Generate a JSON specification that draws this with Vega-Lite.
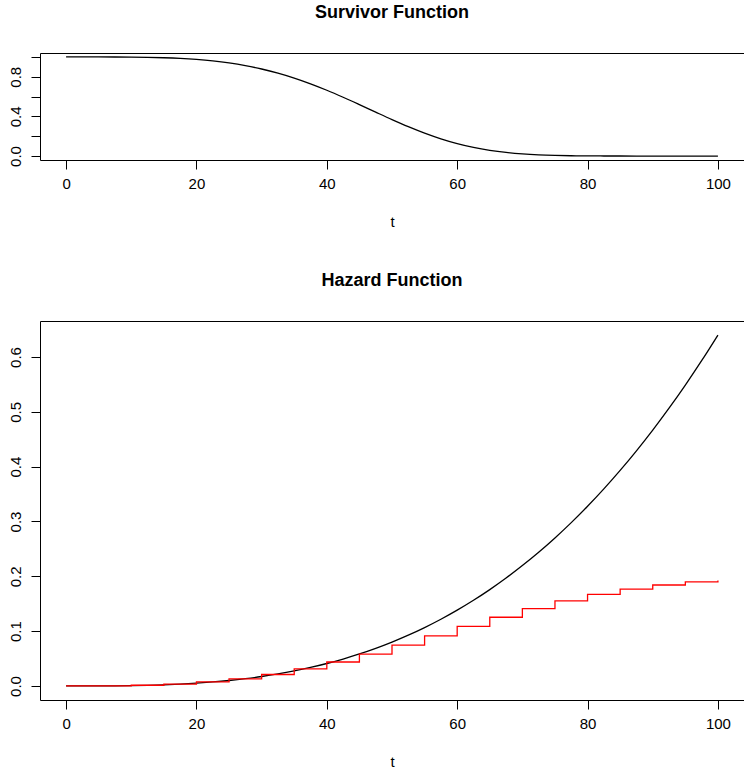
{
  "$schema": "https://vega.github.io/schema/vega-lite/v6.json",
  "padding": {"left": 7, "top": 3, "right": 0, "bottom": 0},
  "background": "white",
  "config": {
    "font": "Liberation Sans",
    "view": {"stroke": "black", "strokeWidth": 1},
    "axis": {"domain": false, "grid": false, "tickColor": "black", "tickSize": 9, "tickWidth": 1, "labelFont": "Liberation Sans", "labelFontSize": 15, "labelColor": "black", "titleFont": "Liberation Sans", "titleFontSize": 15, "titleFontWeight": "normal", "titleColor": "black"},
    "axisX": {"labelPadding": 7, "titlePadding": 23},
    "axisY": {"labelAngle": 270, "labelAlign": "center", "labelBaseline": "alphabetic", "labelPadding": 11},
    "title": {"font": "Liberation Sans", "fontSize": 18, "fontWeight": "bold", "color": "black", "anchor": "middle", "frame": "group", "baseline": "alphabetic", "offset": 31},
    "concat": {"spacing": 41}
  },
  "datasets": {
    "surv": [
      {"t": 0, "s": 1}, {"t": 2.5, "s": 1.0}, {"t": 5, "s": 0.9999}, {"t": 7.5, "s": 0.9995},
      {"t": 10, "s": 0.9984}, {"t": 12.5, "s": 0.9961}, {"t": 15, "s": 0.9919}, {"t": 17.5, "s": 0.9851},
      {"t": 20, "s": 0.9747}, {"t": 22.5, "s": 0.9598}, {"t": 25, "s": 0.9394}, {"t": 27.5, "s": 0.9126},
      {"t": 30, "s": 0.8785}, {"t": 32.5, "s": 0.8365}, {"t": 35, "s": 0.7866}, {"t": 37.5, "s": 0.7288},
      {"t": 40, "s": 0.6639}, {"t": 42.5, "s": 0.5933}, {"t": 45, "s": 0.5189}, {"t": 47.5, "s": 0.4429},
      {"t": 50, "s": 0.3679}, {"t": 52.5, "s": 0.2966}, {"t": 55, "s": 0.2313}, {"t": 57.5, "s": 0.1740},
      {"t": 60, "s": 0.1257}, {"t": 62.5, "s": 0.0870}, {"t": 65, "s": 0.0575}, {"t": 67.5, "s": 0.0361},
      {"t": 70, "s": 0.0215}, {"t": 72.5, "s": 0.0120}, {"t": 75, "s": 0.0063}, {"t": 77.5, "s": 0.0031},
      {"t": 80, "s": 0.0014}, {"t": 82.5, "s": 0.0006}, {"t": 85, "s": 0.0002}, {"t": 87.5, "s": 0.0001},
      {"t": 90, "s": 0}, {"t": 95, "s": 0}, {"t": 100, "s": 0}
    ],
    "haz": [
      {"t": 0, "h": 0}, {"t": 2.5, "h": 0.00001}, {"t": 5, "h": 0.00008}, {"t": 7.5, "h": 0.00027},
      {"t": 10, "h": 0.00064}, {"t": 12.5, "h": 0.00125}, {"t": 15, "h": 0.00216}, {"t": 17.5, "h": 0.00343},
      {"t": 20, "h": 0.00512}, {"t": 22.5, "h": 0.00729}, {"t": 25, "h": 0.01}, {"t": 27.5, "h": 0.01331},
      {"t": 30, "h": 0.01728}, {"t": 32.5, "h": 0.02197}, {"t": 35, "h": 0.02744}, {"t": 37.5, "h": 0.03375},
      {"t": 40, "h": 0.04096}, {"t": 42.5, "h": 0.04913}, {"t": 45, "h": 0.05832}, {"t": 47.5, "h": 0.06859},
      {"t": 50, "h": 0.08}, {"t": 52.5, "h": 0.09261}, {"t": 55, "h": 0.10648}, {"t": 57.5, "h": 0.12167},
      {"t": 60, "h": 0.13824}, {"t": 62.5, "h": 0.15625}, {"t": 65, "h": 0.17576}, {"t": 67.5, "h": 0.19683},
      {"t": 70, "h": 0.21952}, {"t": 72.5, "h": 0.24389}, {"t": 75, "h": 0.27}, {"t": 77.5, "h": 0.29791},
      {"t": 80, "h": 0.32768}, {"t": 82.5, "h": 0.35937}, {"t": 85, "h": 0.39304}, {"t": 87.5, "h": 0.42875},
      {"t": 90, "h": 0.46656}, {"t": 92.5, "h": 0.50653}, {"t": 95, "h": 0.54872}, {"t": 97.5, "h": 0.59319},
      {"t": 100, "h": 0.64}
    ],
    "step": [
      {"t": 0, "h": 0.00002}, {"t": 5, "h": 0.0003}, {"t": 10, "h": 0.0013}, {"t": 15, "h": 0.0035},
      {"t": 20, "h": 0.0073}, {"t": 25, "h": 0.0130}, {"t": 30, "h": 0.0209}, {"t": 35, "h": 0.0312},
      {"t": 40, "h": 0.0437}, {"t": 45, "h": 0.0582}, {"t": 50, "h": 0.0743}, {"t": 55, "h": 0.0913},
      {"t": 60, "h": 0.1086}, {"t": 65, "h": 0.1253}, {"t": 70, "h": 0.1410}, {"t": 75, "h": 0.1550},
      {"t": 80, "h": 0.1669}, {"t": 85, "h": 0.1766}, {"t": 90, "h": 0.1841}, {"t": 95, "h": 0.1897},
      {"t": 100, "h": 0.1925}
    ]
  },
  "vconcat": [
    {
      "title": "Survivor Function",
      "width": 704,
      "height": 107,
      "data": {"name": "surv"},
      "mark": {"type": "line", "color": "black", "strokeWidth": 1.3, "interpolate": "monotone"},
      "encoding": {
        "x": {"field": "t", "type": "quantitative", "scale": {"domain": [-4, 104], "nice": false, "zero": false},
              "axis": {"values": [0, 20, 40, 60, 80, 100], "title": "t"}},
        "y": {"field": "s", "type": "quantitative", "scale": {"domain": [-0.04, 1.04], "nice": false, "zero": false},
              "axis": {"values": [0, 0.2, 0.4, 0.6, 0.8, 1], "labelExpr": "(round(datum.value*10) % 4 == 0) ? format(datum.value, '.1f') : ''", "title": null}}
      }
    },
    {
      "title": "Hazard Function",
      "width": 704,
      "height": 379,
      "encoding": {
        "x": {"field": "t", "type": "quantitative", "scale": {"domain": [-4, 104], "nice": false, "zero": false},
              "axis": {"values": [0, 20, 40, 60, 80, 100], "title": "t"}},
        "y": {"field": "h", "type": "quantitative", "scale": {"domain": [-0.0256, 0.6656], "nice": false, "zero": false},
              "axis": {"values": [0, 0.1, 0.2, 0.3, 0.4, 0.5, 0.6], "labelExpr": "format(datum.value, '.1f')", "title": null}}
      },
      "layer": [
        {"data": {"name": "haz"}, "mark": {"type": "line", "color": "black", "strokeWidth": 1.3, "interpolate": "monotone"}},
        {"data": {"name": "step"}, "mark": {"type": "line", "color": "#FF0000", "strokeWidth": 1.3, "interpolate": "step-after"}}
      ]
    }
  ]
}
